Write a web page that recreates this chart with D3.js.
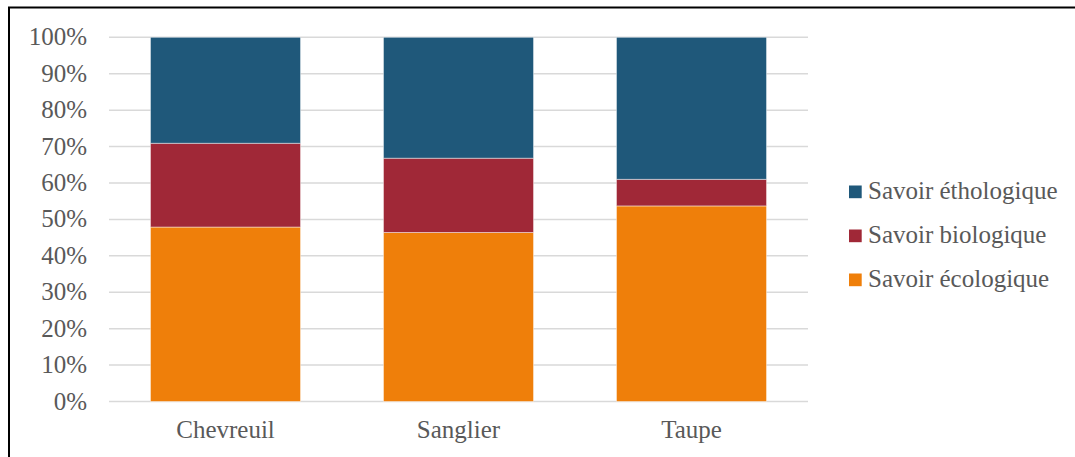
<!DOCTYPE html>
<html><head><meta charset="utf-8">
<script src="https://cdn.jsdelivr.net/npm/d3@7"></script>
<style>body{margin:0;background:#fff;}svg{display:block;}</style>
</head><body>
<script>
const categories = ["Chevreuil", "Sanglier", "Taupe"];
const seriesNames = ["Savoir écologique", "Savoir biologique", "Savoir éthologique"];
const ecologique = [0.479, 0.464, 0.537];
const biologique = [0.230, 0.204, 0.073];
const ethologique = [0.291, 0.332, 0.390];
const tickValues = [0, 0.1, 0.2, 0.3, 0.4, 0.5, 0.6, 0.7, 0.8, 0.9, 1.0];
const colors = ["#EF7F0A", "#A02837", "#1F587A"];

const W = 1075, H = 457;
const font = "'Liberation Serif', 'Times New Roman', serif";
const textColor = "#595959";
const svg = d3.select("body").append("svg").attr("width", W).attr("height", H);

svg.append("rect").attr("x", 9).attr("y", 7.5).attr("width", 1100).attr("height", 600)
  .attr("fill", "none").attr("stroke", "#000").attr("stroke-width", 2);

const x = d3.scaleBand().domain(categories).range([109, 808]).paddingInner(0.356).paddingOuter(0.178);
const y = d3.scaleLinear().domain([0, 1]).range([401.5, 37.3]);

// gridlines
svg.append("g").selectAll("line").data(tickValues).join("line")
  .attr("x1", 109).attr("x2", 808)
  .attr("y1", d => y(d)).attr("y2", d => y(d))
  .attr("stroke", "#d9d9d9").attr("stroke-width", 1.5);

// y tick labels
svg.append("g").selectAll("text").data(tickValues).join("text")
  .attr("x", 87).attr("y", d => y(d) + 8)
  .attr("text-anchor", "end")
  .attr("font-family", font).attr("font-size", 25).attr("fill", textColor)
  .text(d => d3.format(".0%")(d));

// stacked data
const rows = categories.map((c, i) => ({cat: c, eco: ecologique[i], bio: biologique[i], eth: ethologique[i]}));
const stack = d3.stack().keys(["eco", "bio", "eth"]);
const layers = stack(rows);

svg.append("g").selectAll("g").data(layers).join("g")
  .attr("fill", (d, i) => colors[i])
  .selectAll("rect").data(d => d).join("rect")
  .attr("x", d => x(d.data.cat))
  .attr("width", x.bandwidth())
  .attr("y", d => y(d[1]))
  .attr("height", d => y(d[0]) - y(d[1]))
  .attr("stroke", "rgba(255,255,255,0.45)").attr("stroke-width", 1);

// x labels
svg.append("g").selectAll("text").data(categories).join("text")
  .attr("x", d => x(d) + x.bandwidth() / 2).attr("y", 438)
  .attr("text-anchor", "middle")
  .attr("font-family", font).attr("font-size", 25).attr("fill", textColor)
  .text(d => d);

// legend
const legendOrder = [2, 1, 0];
const lg = svg.append("g").selectAll("g").data(legendOrder).join("g")
  .attr("transform", (d, i) => `translate(849, ${199 + i * 44})`);
lg.append("rect").attr("x", 0).attr("y", -13.5).attr("width", 12.7).attr("height", 12.7)
  .attr("fill", d => colors[d]);
lg.append("text").attr("x", 19).attr("y", 0)
  .attr("font-family", font).attr("font-size", 25).attr("fill", textColor)
  .text(d => seriesNames[d]);
</script>
</body></html>
